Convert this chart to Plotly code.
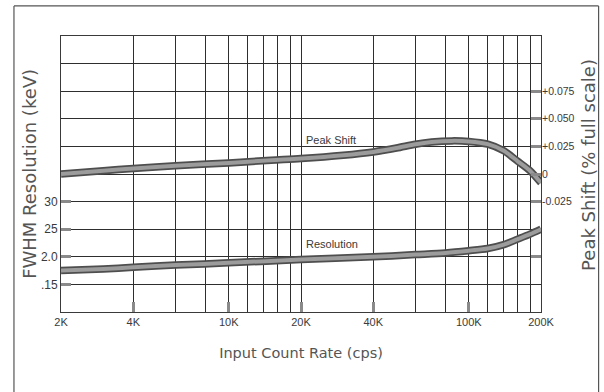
import numpy as np
import plotly.graph_objects as go

# Input count rate (cps)
rate_k = [2, 3, 4, 6, 10, 15, 20, 30, 40, 50, 60, 70, 85, 100, 120, 140, 160, 180, 200]
count_rate = [k * 1000 for k in rate_k]

# Peak shift (% full scale), right axis
peak_shift = [0.000, 0.003, 0.005, 0.0075, 0.010, 0.0125, 0.014, 0.017, 0.020, 0.0235,
              0.027, 0.029, 0.030, 0.0295, 0.027, 0.021, 0.0115, 0.003, -0.008]

# FWHM resolution (keV), left axis
res_k = [2, 3, 4, 6, 10, 20, 40, 60, 80, 100, 120, 140, 160, 180, 200]
res_rate = [k * 1000 for k in res_k]
resolution = [0.175, 0.178, 0.181, 0.185, 0.189, 0.195, 0.200, 0.204, 0.207, 0.211,
              0.215, 0.222, 0.232, 0.241, 0.250]

# Axis ticks and grid
x_tick_vals = [2000, 4000, 10000, 20000, 40000, 100000, 200000]
x_tick_text = ["2K", "4K", "10K", "20K", "40K", "100K", "200K"]
x_grid_vals = [6000, 8000, 12000, 14000, 16000, 18000, 60000, 80000,
               120000, 140000, 160000, 180000]

y_tick_vals = [0.15, 0.20, 0.25, 0.30]
y_tick_text = [".15", "2.0", "25", "30"]
y_grid_vals = [0.35, 0.40, 0.45, 0.50, 0.55]

y2_tick_vals = [-0.075, -0.025, 0.0, 0.025, 0.050, 0.075]
y2_tick_text = ["", "-0.025", "0", "+0.025", "+0.050", "+0.075"]

ink = "#3a3a3a"
grid = "#2e2e2e"
band_edge = "#4e4e4e"
band_fill = "#9c9c9c"
tick_grey = "#8a8a8a"
label_font = "Liberation Sans"
title_font = "DejaVu Sans"
title_color = "#555"

fig = go.Figure()

# Resolution band (left axis)
fig.add_trace(go.Scatter(x=res_rate, y=resolution, mode="lines", yaxis="y",
                         line=dict(color=band_edge, width=7.5, shape="spline", smoothing=0.8),
                         hoverinfo="skip", showlegend=False))
fig.add_trace(go.Scatter(x=res_rate, y=resolution, mode="lines", yaxis="y",
                         line=dict(color=band_fill, width=4, shape="spline", smoothing=0.8),
                         name="Resolution", showlegend=False))

# Peak shift band (right axis)
fig.add_trace(go.Scatter(x=count_rate, y=peak_shift, mode="lines", yaxis="y2",
                         line=dict(color=band_edge, width=7.5, shape="spline", smoothing=0.8),
                         hoverinfo="skip", showlegend=False))
fig.add_trace(go.Scatter(x=count_rate, y=peak_shift, mode="lines", yaxis="y2",
                         line=dict(color=band_fill, width=4, shape="spline", smoothing=0.8),
                         name="Peak Shift", showlegend=False))

fig.update_layout(
    width=604, height=392,
    margin=dict(l=61, r=63, t=36, b=80),
    paper_bgcolor="white", plot_bgcolor="white",
    font=dict(family=label_font, color=ink),
    xaxis=dict(
        type="log",
        range=[np.log10(2000), np.log10(200000)],
        tickvals=x_tick_vals, ticktext=x_tick_text,
        ticks="inside", ticklen=10, tickwidth=3, tickcolor=tick_grey,
        tickfont=dict(size=11, color=ink),
        showgrid=True, gridcolor=grid, gridwidth=1,
        minor=dict(tickvals=x_grid_vals, showgrid=True, gridcolor=grid,
                   gridwidth=1, ticks=""),
        showline=True, linecolor=ink, linewidth=1, mirror=True,
        zeroline=False,
        title=dict(text="Input Count Rate (cps)",
                   font=dict(family=title_font, size=14.5, color=title_color),
                   standoff=20),
    ),
    yaxis=dict(
        range=[0.10, 0.60],
        tickvals=y_tick_vals, ticktext=y_tick_text,
        ticks="inside", ticklen=10, tickwidth=3, tickcolor=tick_grey,
        tickfont=dict(size=12, color=ink),
        showgrid=True, gridcolor=grid, gridwidth=1,
        minor=dict(tickvals=y_grid_vals, showgrid=True, gridcolor=grid,
                   gridwidth=1, ticks=""),
        showline=True, linecolor=ink, linewidth=1, mirror=True,
        zeroline=False,
    ),
    yaxis2=dict(
        overlaying="y", side="right",
        range=[-0.125, 0.125],
        tickvals=y2_tick_vals, ticktext=y2_tick_text,
        ticks="inside", ticklen=10, tickwidth=3, tickcolor=tick_grey,
        tickfont=dict(size=10.5, color=ink),
        showgrid=False, zeroline=False, showline=False,
    ),
    annotations=[
        dict(x=np.log10(20500), y=0.031, xref="x", yref="y2", text="Peak Shift",
             showarrow=False, xanchor="left", yanchor="middle",
             font=dict(size=11, color=ink)),
        dict(x=np.log10(20500), y=0.2225, xref="x", yref="y", text="Resolution",
             showarrow=False, xanchor="left", yanchor="middle",
             font=dict(size=11, color=ink)),
        # vertical axis titles
        dict(x=-0.067, y=0.5, xref="paper", yref="paper", text="FWHM Resolution (keV)",
             textangle=-90, showarrow=False, xanchor="center", yanchor="middle",
             font=dict(family=title_font, size=18, color=title_color)),
        dict(x=1.1, y=0.533, xref="paper", yref="paper", text="Peak Shift (% full scale)",
             textangle=-90, showarrow=False, xanchor="center", yanchor="middle",
             font=dict(family=title_font, size=18, color=title_color)),
    ],
    shapes=[
        # outer frame around the whole figure
        dict(type="line", xref="paper", yref="paper", x0=-0.098, x1=1.12,
             y0=1.109, y1=1.109, line=dict(color="#555", width=1.2)),
        dict(type="line", xref="paper", yref="paper", x0=-0.098, x1=-0.098,
             y0=1.109, y1=-0.32, line=dict(color="#555", width=1.2)),
        dict(type="line", xref="paper", yref="paper", x0=1.12, x1=1.12,
             y0=1.109, y1=-0.32, line=dict(color="#555", width=1.2)),
    ],
)

fig.write_html("out.html")
